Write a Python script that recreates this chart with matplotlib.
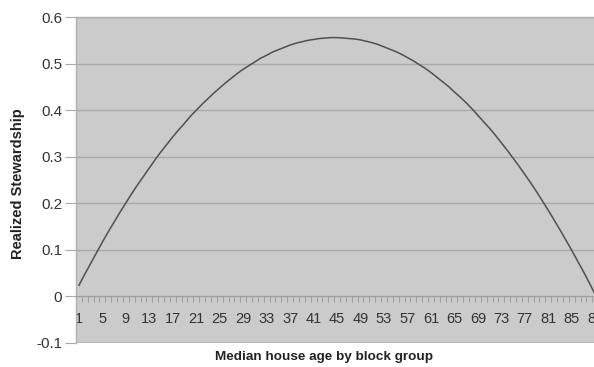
import matplotlib.pyplot as plt
from matplotlib.ticker import FixedLocator, NullFormatter

# median house age categories (block groups) and fitted stewardship
idade = list(range(1, 90))
stewardship = [
    0.024, 0.048, 0.071, 0.094, 0.117, 0.139, 0.160, 0.181, 0.201, 0.221,
    0.240, 0.258, 0.276, 0.294, 0.311, 0.327, 0.343, 0.358, 0.372, 0.387,
    0.400, 0.413, 0.425, 0.437, 0.448, 0.459, 0.469, 0.479, 0.488, 0.496,
    0.504, 0.512, 0.518, 0.525, 0.530, 0.535, 0.540, 0.544, 0.547, 0.550,
    0.552, 0.554, 0.555, 0.556, 0.556, 0.555, 0.554, 0.553, 0.551, 0.548,
    0.545, 0.541, 0.536, 0.531, 0.526, 0.520, 0.513, 0.506, 0.498, 0.490,
    0.481, 0.471, 0.461, 0.451, 0.439, 0.428, 0.416, 0.403, 0.389, 0.375,
    0.361, 0.346, 0.330, 0.314, 0.297, 0.280, 0.262, 0.244, 0.225, 0.205,
    0.185, 0.164, 0.143, 0.121, 0.099, 0.076, 0.053, 0.029, 0.004,
]
rotulos_x = list(range(1, 90, 4))
yticks = [-0.1, 0, 0.1, 0.2, 0.3, 0.4, 0.5, 0.6]

plt.rcParams['font.family'] = ['Liberation Sans', 'DejaVu Sans']

fig = plt.figure(figsize=(5.94, 3.67), dpi=100)
ax = fig.add_axes([0.128, 0.0654, 0.879, 0.888])
ax.set_facecolor('#cbcbcb')

ax.plot(idade, stewardship, color='#505050', lw=1.1, zorder=3)

ax.set_xlim(0.5, len(idade) + 0.5)
ax.set_ylim(-0.1, 0.6)
ax.set_yticks(yticks)
ax.set_yticklabels(['-0.1', '0', '0.1', '0.2', '0.3', '0.4', '0.5', '0.6'])
for y in yticks[2:]:
    ax.axhline(y, color='#a9a9a9', lw=1.0, zorder=1)
ax.axhline(-0.1, color='#b5b5b5', lw=1.2, zorder=1)

# category axis sits at y = 0 with ticks between categories
ax.spines['bottom'].set_position(('data', 0))
ax.spines['bottom'].set_color('#a0a0a0')
ax.spines['bottom'].set_linewidth(1.0)
ax.xaxis.set_major_locator(FixedLocator(rotulos_x))
ax.set_xticklabels([str(v) for v in rotulos_x])
ax.xaxis.set_minor_locator(FixedLocator([v + 0.5 for v in range(0, 90)]))
ax.xaxis.set_minor_formatter(NullFormatter())
ax.tick_params(axis='x', which='major', length=0, pad=11, labelsize=10.5,
               labelcolor='#333333')
ax.tick_params(axis='x', which='minor', length=4, color='#a0a0a0',
               direction='out', width=0.8)
ax.tick_params(axis='y', length=8, color='#a9a9a9', pad=2, labelsize=11,
               labelcolor='#333333')

for lado in ['left', 'top', 'right']:
    ax.spines[lado].set_color('#b0b0b0')
    ax.spines[lado].set_linewidth(1.0)

fig.text(0.545, 0.027, 'Median house age by block group', ha='center',
         va='center', fontsize=9.7, fontweight='bold', color='#222222')
fig.text(0.030, 0.50, 'Realized Stewardship', ha='center', va='center',
         rotation=90, fontsize=10.5, fontweight='bold', color='#222222')

fig.savefig('out.png', dpi=100)
